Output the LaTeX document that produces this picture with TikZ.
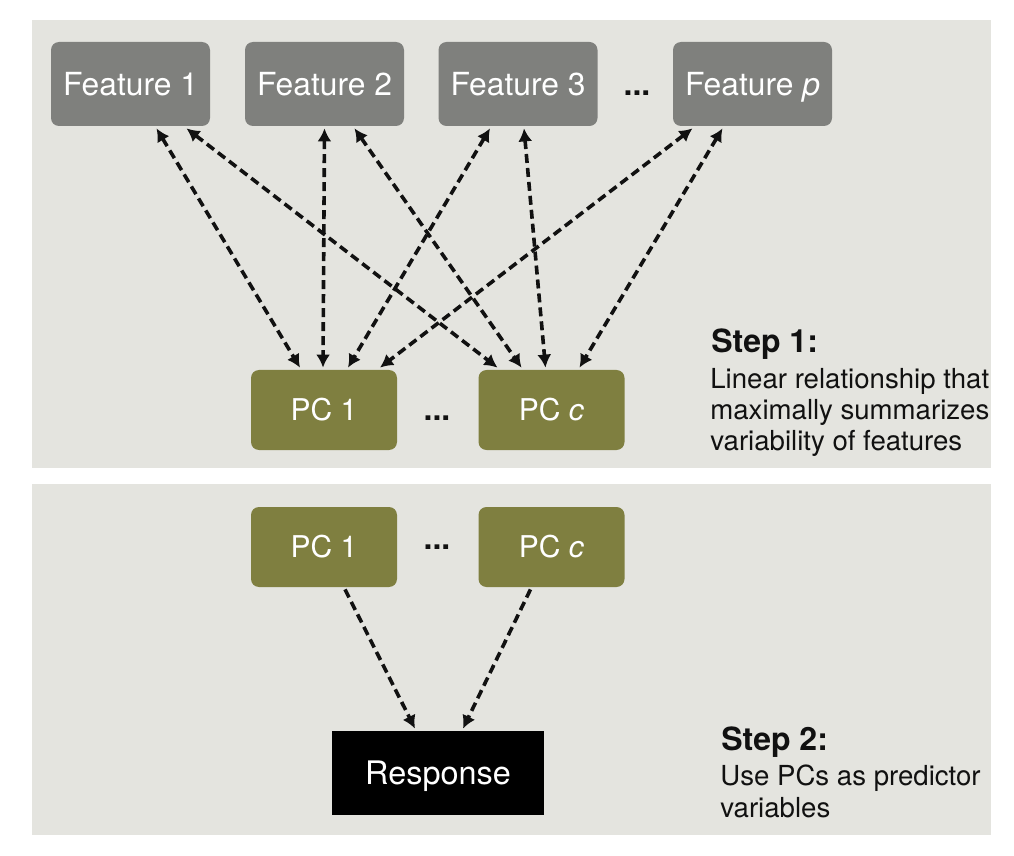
\documentclass[tikz,border=0pt]{standalone}
\usepackage{fontspec}
\setmainfont{TeX Gyre Heros}
\usepackage{tikz}
\usetikzlibrary{arrows.meta, positioning, calc}
\definecolor{panelgray}{HTML}{E4E4DF}
\definecolor{featgray}{HTML}{7F807D}
\definecolor{pcolive}{HTML}{7F7F40}
\definecolor{inkblack}{HTML}{111111}
\tikzset{
>={Latex[length=6.5pt,width=7pt]}, % makes the arrow heads bold
link/.style={dash pattern=on 4.5pt off 2.5pt, line width=1.8pt, inkblack}, % the dashed connectors
boxtext/.style={text=white, inner sep=0pt, text depth=0pt}, % caps centred in the box
featbox/.style={boxtext, fill=featgray, rounded corners=4pt, minimum width=79.5pt, minimum height=42pt, text height=11.4pt, font=\fontsize{15.9}{18}\selectfont}, % the features
pcbox/.style={boxtext, fill=pcolive, rounded corners=4pt, minimum width=73pt, minimum height=40pt, text height=10.8pt, font=\fontsize{15}{17}\selectfont}, % the principal components
respbox/.style={boxtext, fill=black, minimum width=106pt, minimum height=42pt, text height=11.6pt, font=\fontsize{16.2}{18}\selectfont}, % the response
dots/.style={inner sep=0pt, text=inkblack, font=\bfseries\fontsize{16}{18}\selectfont}, % the ellipses between boxes
stephead/.style={inner sep=0pt, anchor=base west, text=inkblack, font=\bfseries\fontsize{16}{18}\selectfont}, % step titles
steptext/.style={inner sep=0pt, anchor=base west, align=left, text=inkblack, font=\fontsize{13.8}{15.75}\selectfont}, % step descriptions
}

\begin{document}
\begin{tikzpicture}[x=0.5pt, y=-0.5pt]
\useasboundingbox (0,0) rectangle (1014,856);
\def\ftop{84}
\def\pctop{410}
\def\pcbot{547}
% panels
\fill[panelgray] (32,20) rectangle (991,468);
\fill[panelgray] (32,484) rectangle (991,835);

% step 1
\node[featbox] (f1) at (130.5,\ftop) {Feature 1};
\node[featbox] (f2) at (324.5,\ftop) {Feature 2};
\node[featbox] (f3) at (518,\ftop) {Feature 3};
\node[dots] (fdots) at (637,\ftop+9) {...};
\node[featbox] (fp) at (752.5,\ftop) {Feature \textit{p}};
\node[pcbox] (pc1) at (324,\pctop) {PC 1};
\node[dots] (pcdots) at (437,\pctop+8) {...};
\node[pcbox] (pcc) at (551.5,\pctop) {PC \textit{c}};
\node[stephead] (s1) at (711,352) {Step 1:};
\node[steptext] (s1text) at (710,451) {Linear relationship that\\maximally summarizes\\variability of features};

% step 2
\node[pcbox] (pc1b) at (324,\pcbot) {PC 1};
\node[dots] (pcdotsb) at (437,\pcbot) {...};
\node[pcbox] (pccb) at (551.5,\pcbot) {PC \textit{c}};
\node[respbox] (resp) at (438,773) {Response};
\node[stephead] (s2) at (721,750) {Step 2:};
\node[steptext] (s2text) at (720,817) {Use PCs as predictor\\variables};

% edges
\path[<->] ($(f1.south)+(26,2)$) edge [link] ($(pc1.north)+(-24,-2)$); % feature 1 to PC 1
\path[<->] ($(f1.south)+(56,2)$) edge [link] ($(pcc.north)+(-54,-2)$); % feature 1 to PC c
\path[<->] ($(f2.south)+(0,2)$) edge [link] ($(pc1.north)+(-1,-2)$); % feature 2 to PC 1
\path[<->] ($(f2.south)+(30,2)$) edge [link] ($(pcc.north)+(-30,-2)$); % feature 2 to PC c
\path[<->] ($(f3.south)+(-28,2)$) edge [link] ($(pc1.north)+(24,-2)$); % feature 3 to PC 1
\path[<->] ($(f3.south)+(6,2)$) edge [link] ($(pcc.north)+(-6,-2)$); % feature 3 to PC c
\path[<->] ($(fp.south)+(-60,2)$) edge [link] ($(pc1.north)+(56,-2)$); % feature p to PC 1
\path[<->] ($(fp.south)+(-30,2)$) edge [link] ($(pcc.north)+(28,-2)$); % feature p to PC c
\path[->] ($(pc1b.south)+(21,2)$) edge [link] ($(resp.north)+(-23,-2)$); % PC 1 to response
\path[->] ($(pccb.south)+(-21,2)$) edge [link] ($(resp.north)+(25,-2)$); % PC c to response
\end{tikzpicture}
\end{document}
